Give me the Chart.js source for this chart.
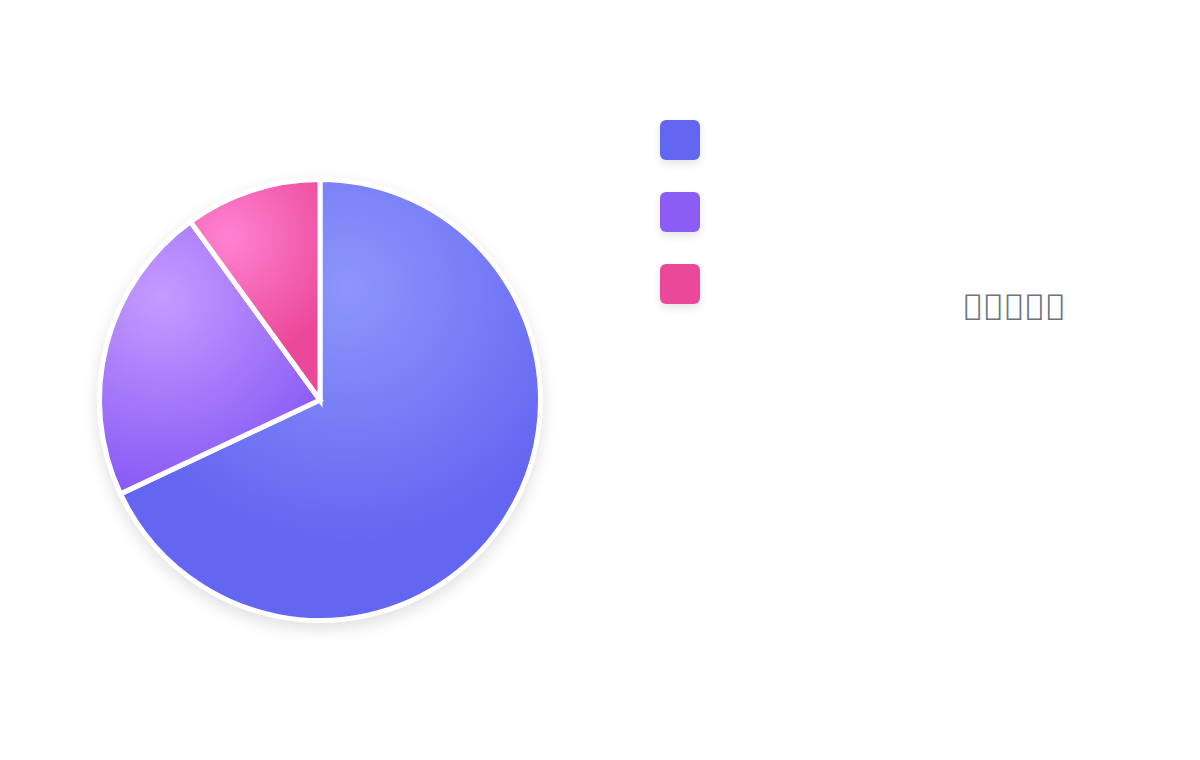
<!DOCTYPE html>
<html>
<head>
<meta charset="utf-8">
<script src="https://cdn.jsdelivr.net/npm/chart.js@4"></script>
<style>
  html, body { margin: 0; padding: 0; background: #fff; }
  body { width: 1200px; height: 760px; position: relative; overflow: hidden; font-family: "DejaVu Sans", sans-serif; }
  #pieWrap { position: absolute; left: 80px; top: 160px; width: 480px; height: 480px; }
  #legend { position: absolute; left: 660px; top: 120px; }
  .item { height: 40px; margin-bottom: 32px; display: flex; align-items: center; }
  .swatch { width: 40px; height: 40px; border-radius: 6px; box-shadow: 0 4px 10px rgba(0,0,0,0.10); }
  .item span { margin-left: 16px; color: #fff; font-size: 18px; }
  #note { position: absolute; left: 964px; top: 288px; font-size: 29px; color: #6b7280; letter-spacing: 3.2px; }
</style>
</head>
<body>
<div id="pieWrap"><canvas id="pieChart"></canvas></div>
<div id="legend"></div>
<div id="note">&#xE000;&#xE001;&#xE002;&#xE003;&#xE004;</div>
<script>
// chart data
const categories = ['A', 'B', 'C'];
const shares = [68, 22, 10];
const baseColors = ['#6366f1', '#8b5cf6', '#ec4899'];
const lightColors = ['#8c96fb', '#c59bff', '#ff82d2'];
// highlight spot per slice (fraction of radius from centre) and how far it spreads
const glowSpots = [[0.12, -0.5], [-0.71, -0.46], [-0.41, -0.73]];
const glowSize = [1.15, 0.85, 0.55];

function sliceFill(c) {
  const area = c.chart.chartArea;
  if (!area) return baseColors[c.dataIndex];
  const cx = (area.left + area.right) / 2;
  const cy = (area.top + area.bottom) / 2;
  const r = Math.min(area.right - area.left, area.bottom - area.top) / 2;
  const i = c.dataIndex;
  const gx = cx + glowSpots[i][0] * r, gy = cy + glowSpots[i][1] * r;
  const g = c.chart.ctx.createRadialGradient(gx, gy, 0, gx, gy, r * glowSize[i]);
  g.addColorStop(0, lightColors[i]);
  g.addColorStop(1, baseColors[i]);
  return g;
}

// soft drop shadow under the whole pie
const pieShadow = {
  id: 'pieShadow',
  beforeDatasetsDraw(chart) {
    const arc = chart.getDatasetMeta(0).data[0];
    if (!arc) return;
    const ctx = chart.ctx;
    ctx.save();
    ctx.shadowColor = 'rgba(0,0,0,0.13)';
    ctx.shadowBlur = 16;
    ctx.shadowOffsetY = 6;
    ctx.fillStyle = '#fff';
    ctx.beginPath();
    ctx.arc(arc.x, arc.y, arc.outerRadius + 2, 0, Math.PI * 2);
    ctx.fill();
    ctx.restore();
  }
};

new Chart(document.getElementById('pieChart'), {
  type: 'pie',
  data: {
    labels: categories,
    datasets: [{
      data: shares,
      backgroundColor: sliceFill,
      borderColor: '#ffffff',
      borderWidth: 5,
      borderJoinStyle: 'miter',
      hoverOffset: 0
    }]
  },
  options: {
    responsive: true,
    maintainAspectRatio: false,
    animation: false,
    layout: { padding: 17 },
    plugins: {
      legend: { display: false },
      tooltip: { enabled: false }
    }
  },
  plugins: [pieShadow]
});

const legend = document.getElementById('legend');
categories.forEach((name, i) => {
  const item = document.createElement('div');
  item.className = 'item';
  item.innerHTML = '<div class="swatch" style="background:' + baseColors[i] + '"></div><span>' + name + '</span>';
  legend.appendChild(item);
});
</script>
</body>
</html>
